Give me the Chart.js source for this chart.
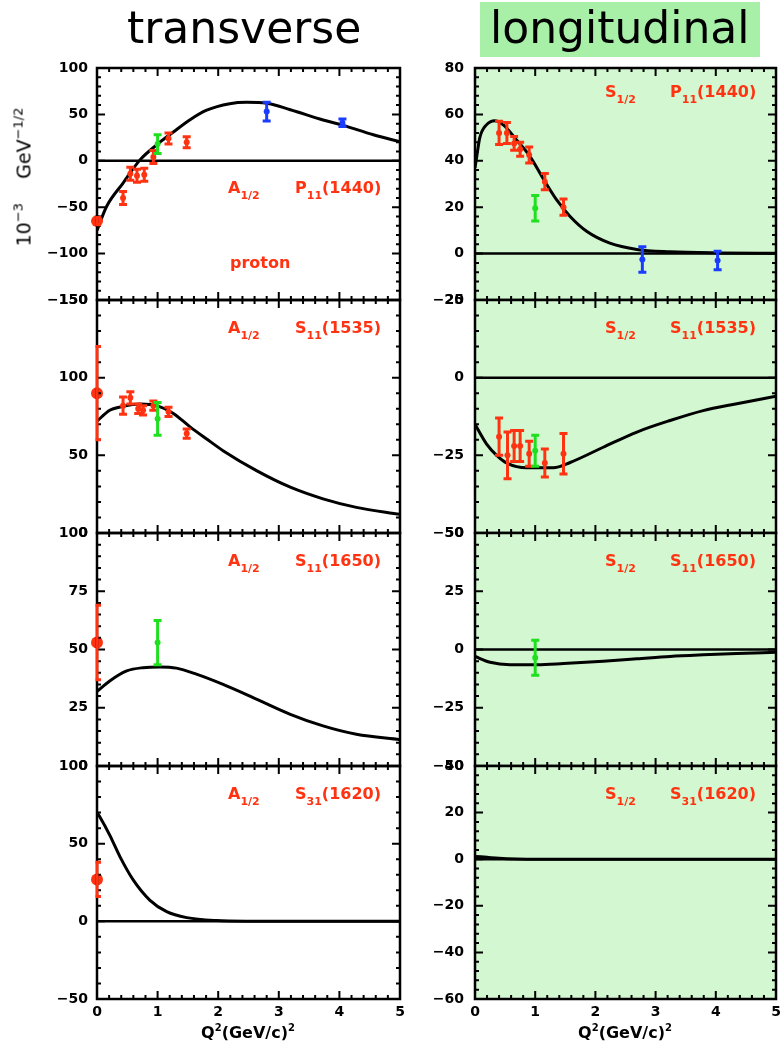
<!DOCTYPE html>
<html>
<head>
<meta charset="utf-8">
<script src="https://cdn.jsdelivr.net/npm/chart.js@4.4.1/dist/chart.umd.min.js"></script>
<style>
html,body{margin:0;padding:0;background:#fff}
body{position:relative;width:781px;height:1050px;overflow:hidden}
canvas{position:absolute;z-index:1}
.ttl{position:absolute;z-index:3;font-family:"DejaVu Sans";font-size:44px;line-height:44px;color:#000;white-space:nowrap}
.box{position:absolute;z-index:2;background:#a8f0a8}
.lab{position:absolute;z-index:3;font-family:"DejaVu Sans";font-weight:bold;font-size:16px;line-height:16px;color:#ff3311;white-space:nowrap}
.lab .sb{font-size:11px;position:relative;top:6px}
.axt{position:absolute;z-index:3;font-family:"DejaVu Sans";font-weight:bold;font-size:16px;line-height:16px;color:#000;white-space:nowrap;transform:translateX(-50%)}
.axt .sp{font-size:10px;position:relative;top:-7px}
.ytl{position:absolute;z-index:3;left:25px;top:177px;font-family:"DejaVu Sans";font-size:19px;line-height:19px;color:#000;white-space:nowrap;transform:translate(-50%,-50%) rotate(-90deg)}
.ytl .sp{font-size:13px;position:relative;top:-8px}
</style>
</head>
<body>
<div class="ttl" style="left:127px;top:6px">transverse</div>
<div class="box" style="left:480px;top:2px;width:280px;height:55px"></div>
<div class="ttl" style="left:490px;top:6px">longitudinal</div>
<div class="ytl">10<span class="sp">−3</span>&nbsp;&nbsp;&nbsp;&nbsp;GeV<span class="sp">−1/2</span></div>
<div class="axt" style="left:248px;top:1025px">Q<span class="sp">2</span>(GeV/c)<span class="sp">2</span></div>
<div class="axt" style="left:625px;top:1025px">Q<span class="sp">2</span>(GeV/c)<span class="sp">2</span></div>
<script>
// Q² axis tick labels (GeV/c)²
const q2TickLabels = ['0', '1', '2', '3', '4', '5'];

// Model curves: [Q², amplitude in 10^-3 GeV^-1/2]
const curveP11A = [[0,-75],[0.16,-49],[0.43,-24],[0.71,1],[1.02,19],[1.26,31],[1.53,44],[1.81,54.5],[2.19,61.5],[2.47,63],[2.8,62],[3.19,55],[3.73,44],[4.05,38.5],[4.56,28],[5,20.5]];
const curveP11S = [[0,37],[0.03,42],[0.08,50],[0.19,55.5],[0.33,57.3],[0.47,55.5],[0.69,49],[0.91,42],[1.14,32],[1.36,23],[1.58,16],[1.86,9.5],[2.24,4.5],[2.69,1.8],[3.24,0.8],[4.1,0.3],[5,0.1]];
const curveS11a1535A = [[0,72],[0.21,79],[0.43,81.5],[0.71,83],[1.02,81.5],[1.26,77],[1.53,68.5],[1.81,60.5],[2.08,53],[2.64,40],[3.19,29.5],[3.73,22],[4.28,16.5],[5,12]];
const curveS11a1535S = [[0,-15],[0.19,-21.3],[0.36,-25],[0.53,-27.5],[0.86,-29],[1.3,-29],[1.58,-27.3],[2.13,-22.4],[2.69,-17.5],[3.24,-13.8],[3.79,-10.6],[4.35,-8.4],[5,-6]];
const curveS11b1650A = [[0,32],[0.21,36.5],[0.49,40.8],[0.76,42.2],[1.04,42.5],[1.31,42],[1.64,39.4],[2.08,35],[2.64,28.6],[3.19,22.2],[3.73,17.2],[4.28,13.6],[5,11.3]];
const curveS11b1650S = [[0,-3],[0.25,-5.5],[0.58,-6.5],[1.03,-6.5],[1.47,-6],[2.13,-5],[2.69,-4],[3.24,-3],[3.79,-2.3],[4.35,-1.7],[5,-1.2]];
const curveS31A = [[0,70],[0.05,67],[0.21,55.5],[0.38,41.5],[0.6,26.5],[0.87,13.7],[1.15,6.2],[1.48,2.4],[1.97,0.5],[2.5,0.1],[5,0]];
const curveS31S = [[0,1.2],[0.2,0.8],[0.4,0.4],[0.7,0.1],[1,0],[5,0]];

// Measurements: [Q², value, error]
const photoP11A = [[0,-65,4]];
const redP11A = [[0.43,-40,7],[0.55,-14,7],[0.66,-16,7],[0.78,-15,7],[0.93,4,7],[1.18,24,6],[1.48,20,6]];
const greenP11A = [[1.0,18,10]];
const blueP11A = [[2.8,53,10],[4.05,41,4]];
const redP11S = [[0.4,52,5],[0.53,52,4.5],[0.65,47.5,3],[0.75,45,3],[0.9,42.5,3.5],[1.16,31,3.5],[1.47,20,3.5]];
const greenP11S = [[1.0,19.5,5.5]];
const blueP11S = [[2.78,-2.5,5.5],[4.03,-3,4]];
const photoS11a1535A = [[0,90,30]];
const redS11a1535A = [[0.43,82,5.5],[0.55,87,4],[0.68,80,3],[0.76,79,3],[0.93,82,3],[1.18,78,3],[1.48,64,3]];
const greenS11a1535A = [[1.0,73.5,10.5]];
const redS11a1535S = [[0.4,-19,6],[0.54,-25,7.5],[0.65,-22,5],[0.75,-22,5],[0.9,-24.5,4],[1.16,-27.5,4.5],[1.47,-24.5,6.5]];
const greenS11a1535S = [[1.0,-23.5,5]];
const photoS11b1650A = [[0,53,16]];
const greenS11b1650A = [[1.0,53,9.5]];
const greenS11b1650S = [[1.0,-3.5,7.5]];
const photoS31A = [[0,27,11]];

const RED = '#ff3311', GREEN = '#1fe01f', BLUE = '#1a3cff';
const LONG_BG = '#d3f7d0';
const rowEdges = [68, 300, 533, 766, 999];
const colEdges = [[97, 400], [475, 776]];
const canvasLeft = [0, 405];

const panels = [
  {col:0,row:0,y:[-150,100,50,10],curve:curveP11A,zero:true,
   sets:[[photoP11A,RED,true],[redP11A,RED],[greenP11A,GREEN],[blueP11A,BLUE]],
   lab:['A','P','11','(1440)'],base:193.5,extra:'proton'},
  {col:1,row:0,y:[-20,80,20,4],curve:curveP11S,zero:true,
   sets:[[redP11S,RED],[greenP11S,GREEN],[blueP11S,BLUE]],
   lab:['S','P','11','(1440)'],base:97},
  {col:0,row:1,y:[0,150,50,10],curve:curveS11a1535A,zero:false,
   sets:[[photoS11a1535A,RED,true],[redS11a1535A,RED],[greenS11a1535A,GREEN]],
   lab:['A','S','11','(1535)']},
  {col:1,row:1,y:[-50,25,25,5],curve:curveS11a1535S,zero:true,
   sets:[[redS11a1535S,RED],[greenS11a1535S,GREEN]],
   lab:['S','S','11','(1535)']},
  {col:0,row:2,y:[0,100,25,5],curve:curveS11b1650A,zero:false,
   sets:[[photoS11b1650A,RED,true],[greenS11b1650A,GREEN]],
   lab:['A','S','11','(1650)']},
  {col:1,row:2,y:[-50,50,25,5],curve:curveS11b1650S,zero:true,
   sets:[[greenS11b1650S,GREEN]],
   lab:['S','S','11','(1650)']},
  {col:0,row:3,y:[-50,100,50,10],curve:curveS31A,zero:true,
   sets:[[photoS31A,RED,true]],
   lab:['A','S','31','(1620)']},
  {col:1,row:3,y:[-60,40,20,4],curve:curveS31S,zero:true,
   sets:[],
   lab:['S','S','31','(1620)']}
];

// Panel decoration: background fill, frame with inward ticks, error bars
function panelPlugin(fill, yMin, yMax, yStep, yMinor) {
  return {
    id: 'panelDeco',
    beforeDraw(chart) {
      if (!fill) return;
      const {ctx, chartArea: a} = chart;
      ctx.save();
      ctx.fillStyle = fill;
      ctx.fillRect(a.left, a.top, a.width, a.height);
      ctx.restore();
    },
    afterDatasetsDraw(chart) {
      const ctx = chart.ctx, a = chart.chartArea;
      const xs = chart.scales.x, ys = chart.scales.y;
      ctx.save();
      ctx.strokeStyle = '#000';
      ctx.lineWidth = 2;
      ctx.beginPath();
      const nx = Math.round(5 / 0.2);
      for (let k = 0; k <= nx; k++) {
        const v = k * 0.2;
        const len = (k % 5 === 0) ? 8 : 4;
        const p = xs.getPixelForValue(v);
        ctx.moveTo(p, a.top); ctx.lineTo(p, a.top + len);
        ctx.moveTo(p, a.bottom); ctx.lineTo(p, a.bottom - len);
      }
      const ny = Math.round((yMax - yMin) / yMinor);
      const per = Math.round(yStep / yMinor);
      for (let k = 0; k <= ny; k++) {
        const v = yMin + k * yMinor;
        const len = (k % per === 0) ? 8 : 4;
        const p = ys.getPixelForValue(v);
        ctx.moveTo(a.left, p); ctx.lineTo(a.left + len, p);
        ctx.moveTo(a.right, p); ctx.lineTo(a.right - len, p);
      }
      ctx.stroke();
      ctx.lineWidth = 2.5;
      ctx.strokeRect(a.left, a.top, a.width, a.height);
      ctx.restore();

      // error bars
      ctx.save();
      ctx.beginPath();
      ctx.rect(a.left - 1.5, a.top, a.width + 3, a.height);
      ctx.clip();
      chart.data.datasets.forEach(ds => {
        if (!ds.errorBar) return;
        ctx.strokeStyle = ds.borderColor;
        ctx.lineWidth = 3;
        ds.data.forEach(d => {
          const px = xs.getPixelForValue(d.x);
          const hi = ys.getPixelForValue(d.y + d.err);
          const lo = ys.getPixelForValue(d.y - d.err);
          const c = 4;
          ctx.beginPath();
          ctx.moveTo(px, hi); ctx.lineTo(px, lo);
          ctx.moveTo(px - c, hi); ctx.lineTo(px + c, hi);
          ctx.moveTo(px - c, lo); ctx.lineTo(px + c, lo);
          ctx.stroke();
        });
      });
      ctx.restore();
    }
  };
}

Chart.defaults.font.family = 'DejaVu Sans';
const tickFont = {size: 14, weight: 'bold'};
const fmt = v => String(v).replace('-', '\u2212');

function addLabel(x, baseline, html) {
  const d = document.createElement('div');
  d.className = 'lab';
  d.style.left = x + 'px';
  d.style.top = (baseline - 13.5) + 'px';
  d.innerHTML = html;
  document.body.appendChild(d);
}

function buildPanel(p) {
  const [L, R] = colEdges[p.col];
  const T = rowEdges[p.row], B = rowEdges[p.row + 1];
  const bottomRow = p.row === 3;
  const padTop = 26;
  const padBottom = bottomRow ? 4 : 26;
  const xAxisH = bottomRow ? 30 : 0;
  const cl = canvasLeft[p.col];
  const padRight = 15;
  const cv = document.createElement('canvas');
  cv.width = R + padRight - cl;
  cv.height = (B - T) + padTop + xAxisH + padBottom;
  cv.style.left = cl + 'px';
  cv.style.top = (T - padTop) + 'px';
  document.body.appendChild(cv);

  const [yMin, yMax, yStep, yMinor] = p.y;
  const datasets = [];
  p.sets.forEach(([pts, color, big]) => {
    datasets.push({
      data: pts.map(([x, y, err]) => ({x, y, err})),
      backgroundColor: color, borderColor: color,
      pointRadius: big ? 6 : 3, pointBorderWidth: 0,
      showLine: false, clip: false, errorBar: true
    });
  });
  datasets.push({
    data: p.curve.map(([x, y]) => ({x, y})),
    showLine: true, borderColor: '#000', borderWidth: 3,
    pointRadius: 0, cubicInterpolationMode: 'monotone', fill: false
  });
  if (p.zero) {
    datasets.push({
      data: [{x: 0, y: 0}, {x: 5, y: 0}],
      showLine: true, borderColor: '#000', borderWidth: 2.5, pointRadius: 0
    });
  }

  new Chart(cv, {
    type: 'scatter',
    data: {datasets},
    plugins: [panelPlugin(p.col ? LONG_BG : null, yMin, yMax, yStep, yMinor)],
    options: {
      responsive: false, animation: false, events: [],
      layout: {padding: {left: 0, right: padRight, top: padTop, bottom: padBottom}},
      plugins: {legend: {display: false}, tooltip: {enabled: false}},
      scales: {
        x: {
          type: 'linear', min: 0, max: 5, display: bottomRow,
          ticks: {stepSize: 1, autoSkip: false, maxRotation: 0, padding: 5, color: '#000', font: tickFont,
                  callback: v => q2TickLabels[v] ?? ''},
          grid: {display: false, drawTicks: false}, border: {display: false},
          afterFit: s => { s.height = xAxisH; }
        },
        y: {
          type: 'linear', min: yMin, max: yMax,
          ticks: {stepSize: yStep, autoSkip: false, padding: p.col ? 11 : 9, color: '#000', font: tickFont,
                  callback: v => fmt(v)},
          grid: {display: false, drawTicks: false}, border: {display: false},
          afterFit: s => { s.width = L - cl; }
        }
      }
    }
  });

  const [amp, res, sub, mass] = p.lab;
  const base = p.base ?? (T + 33);
  const ampX = p.col ? 605 : 228, resX = p.col ? 670 : 295;
  addLabel(ampX, base, amp + '<span class="sb">1/2</span>');
  addLabel(resX, base, res + '<span class="sb">' + sub + '</span>' + mass);
  if (p.extra) addLabel(230, 268, p.extra);
}

panels.forEach(buildPanel);
</script>
</body>
</html>
